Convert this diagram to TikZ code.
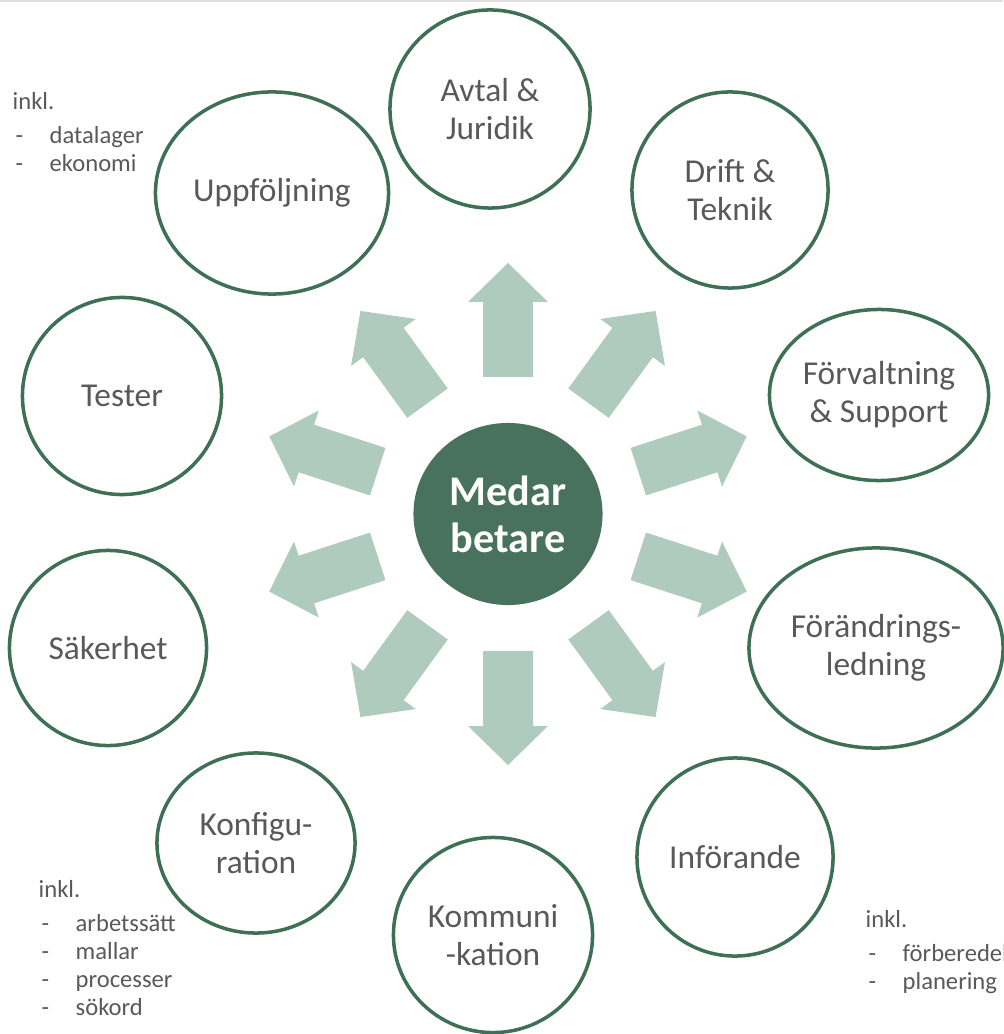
\documentclass[tikz,border=0pt]{standalone}
\usepackage{fontspec}
\setmainfont{Carlito}
\usetikzlibrary{shapes.geometric}

\definecolor{ringgreen}{RGB}{62,112,86}
\definecolor{kerngreen}{RGB}{73,114,94}
\definecolor{pilgreen}{RGB}{174,203,189}
\definecolor{textgray}{RGB}{89,89,89}

\newcommand{\strecket}[1]{\makebox[0.37cm][l]{\hspace{0.03cm}-}#1}

\begin{document}
\begin{tikzpicture}[x=0.01cm, y=-0.01cm,
    ring/.style={ellipse, draw=ringgreen, line width=1pt, inner sep=0pt, align=center,
        text=textgray, font=\fontsize{9.5}{10.8}\selectfont},
    note/.style={anchor=north west, inner sep=0pt, align=left, text=textgray,
        font=\fontsize{7}{8}\selectfont}]
    \useasboundingbox (0,0) rectangle (1003,1034);
    % Rand oben
    \fill[black!12] (0,0) rectangle (1003,2);

    % Mitte
    \node[ellipse, fill=kerngreen, minimum width=1.89cm, minimum height=1.82cm, inner sep=0pt,
        align=center, text=white, font=\bfseries\fontsize{12}{13.4}\selectfont]
        (mitte) at (508,514) {Medar\\betare};

    % Pfeile
    \foreach \a in {18,54,...,342}
        \fill[pilgreen, shift={(mitte.center)}, rotate=\a]
            (137,-25) -- (212,-25) -- (212,-40) -- (251,0) -- (212,40) -- (212,25) -- (137,25) -- cycle;

    % Kreise
    \node[ring, minimum width=2cm, minimum height=1.98cm] (avtal) at (490,109) {Avtal \&\\Juridik};
    \node[ring, minimum width=1.96cm, minimum height=1.96cm] (drift) at (730,190) {Drift \&\\Teknik};
    \node[ring, minimum width=2.19cm, minimum height=1.71cm] (forvaltning) at (879,395) {Förvaltning\\\& Support};
    \node[ring, minimum width=2.54cm, minimum height=2cm] (forandring) at (876,648) {Förändrings-\\ledning};
    \node[ring, minimum width=1.96cm, minimum height=1.98cm] (inforande) at (735,857) {Införande};
    \node[ring, minimum width=1.99cm, minimum height=1.95cm] (kommunikation) at (493,935) {Kommuni\\-kation};
    \node[ring, minimum width=1.98cm, minimum height=1.8cm] (konfiguration) at (256,843) {Konfigu-\\ration};
    \node[ring, minimum width=1.97cm, minimum height=1.95cm] (sakerhet) at (108,648) {Säkerhet};
    \node[ring, minimum width=1.99cm, minimum height=1.97cm] (tester) at (122,396) {Tester};
    \node[ring, minimum width=2.33cm, minimum height=2.02cm] (uppfoljning) at (272,193) {Uppföljning};

    % Anmerkungen
    \node[note] (inkluppf) at (12,92) {inkl.\\[1.5pt]\strecket{datalager}\\\strecket{ekonomi}};
    \node[note] (inklkonf) at (38,880) {inkl.\\[1.5pt]\strecket{arbetssätt}\\\strecket{mallar}\\\strecket{processer}\\\strecket{sökord}};
    \node[note] (inklinf) at (865,910) {inkl.\\[1.5pt]\strecket{förberedel}\\\strecket{planering}};
\end{tikzpicture}
\end{document}
